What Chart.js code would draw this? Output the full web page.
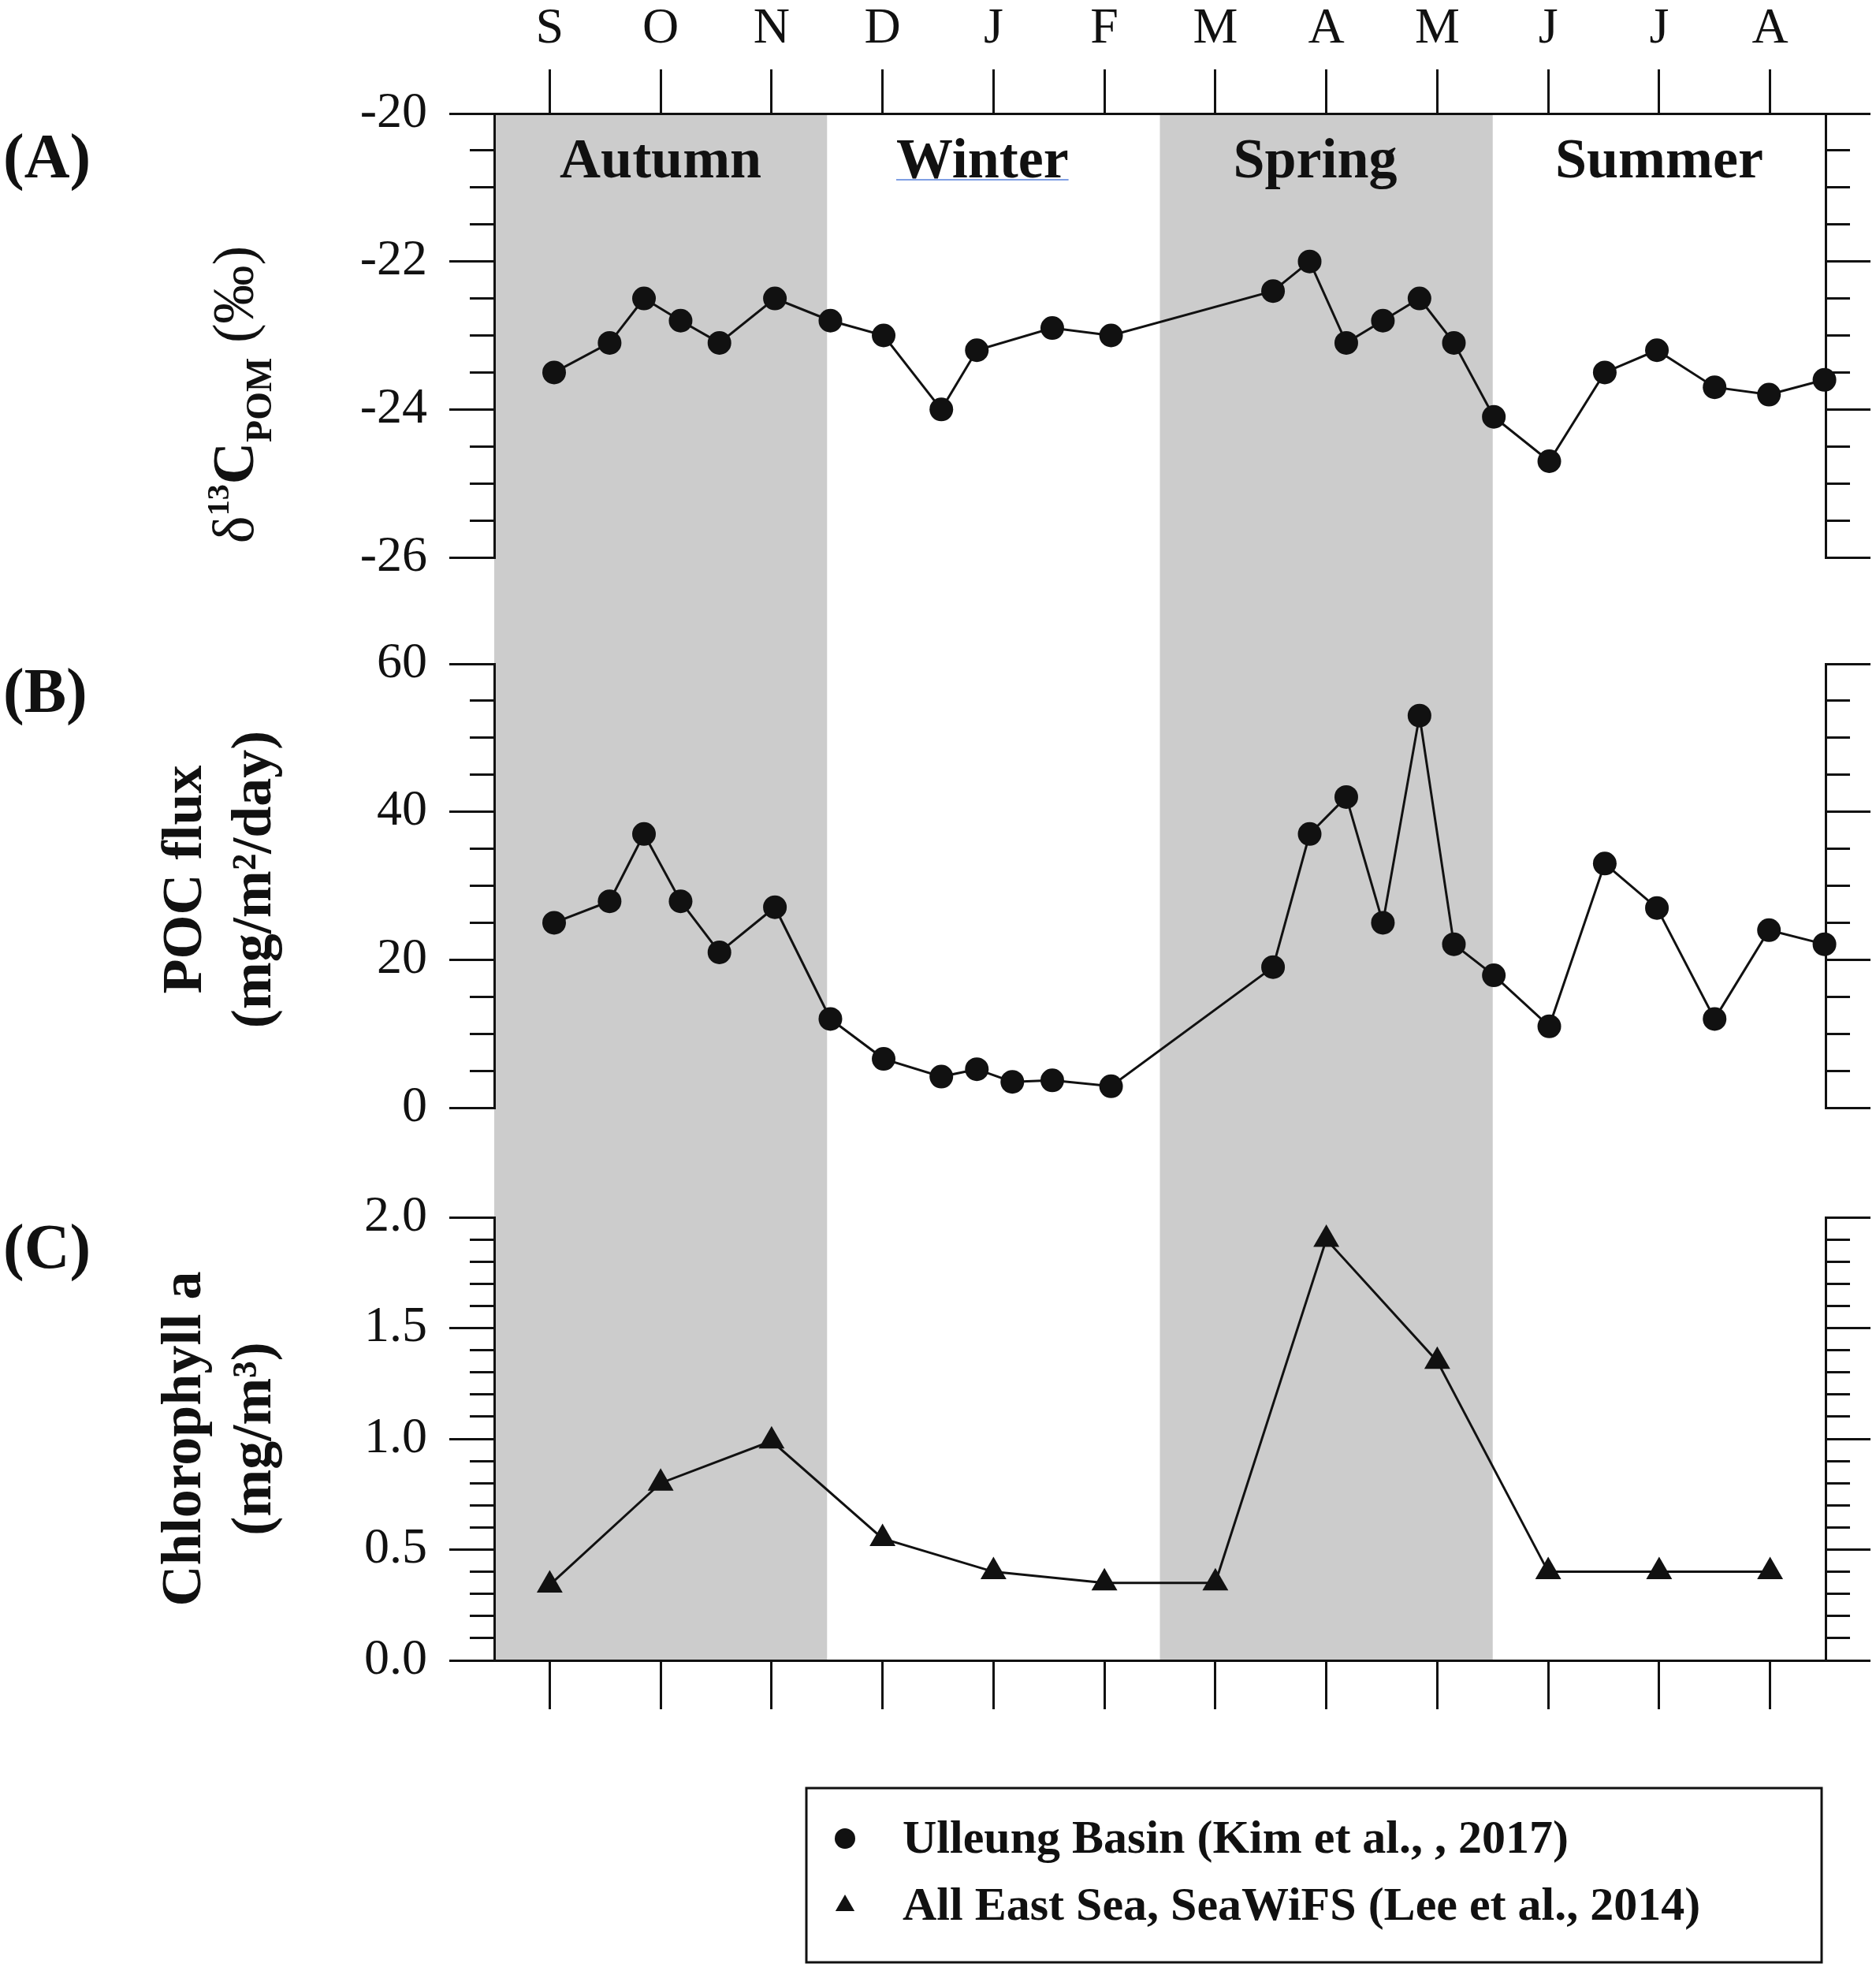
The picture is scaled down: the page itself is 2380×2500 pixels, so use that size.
<!DOCTYPE html>
<html>
<head>
<meta charset="utf-8">
<script src="https://cdn.jsdelivr.net/npm/chart.js@4.4.1/dist/chart.umd.min.js"></script>
<style>
  html, body { margin: 0; padding: 0; background: #fff; }
  canvas { display: block; }
</style>
</head>
<body>
<canvas id="chart" width="2380" height="2500"></canvas>
<script>
// month ticks along the shared x axis (0 = September ... 11 = August)
const months = ['S', 'O', 'N', 'D', 'J', 'F', 'M', 'A', 'M', 'J', 'J', 'A'];
const monthIdx = [0, 1, 2, 3, 4, 5, 6, 7, 8, 9, 10, 11];
const seasons = ['Autumn', 'Winter', 'Spring', 'Summer'];
const seasonCentres = [1, 3.9, 6.9, 10];
const shadedSpans = [[-0.5, 2.5], [5.5, 8.5]];

// (A) d13C of POM
const d13cMonths = [0.04, 0.54, 0.85, 1.18, 1.53, 2.03, 2.53, 3.01, 3.53, 3.85, 4.53, 5.06,
  6.52, 6.85, 7.18, 7.51, 7.84, 8.15, 8.51, 9.01, 9.51, 9.98, 10.50, 10.99, 11.49];
const d13cValues = [-23.5, -23.1, -22.5, -22.8, -23.1, -22.5, -22.8, -23.0, -24.0, -23.2, -22.9, -23.0,
  -22.4, -22.0, -23.1, -22.8, -22.5, -23.1, -24.1, -24.7, -23.5, -23.2, -23.7, -23.8, -23.6];

// (B) POC flux
const pocMonths = [0.04, 0.54, 0.85, 1.18, 1.53, 2.03, 2.53, 3.01, 3.53, 3.85, 4.17, 4.53, 5.06,
  6.52, 6.85, 7.18, 7.51, 7.84, 8.15, 8.51, 9.01, 9.51, 9.98, 10.50, 10.99, 11.49];
const pocValues = [25.0, 27.9, 37.0, 27.9, 21.0, 27.1, 12.0, 6.6, 4.2, 5.2, 3.5, 3.7, 2.9,
  19.0, 37.0, 42.0, 25.0, 53.0, 22.1, 17.9, 11.0, 33.0, 27.0, 12.0, 24.0, 22.1];

// (C) chlorophyll a
const chlMonths = [0, 1, 2, 3, 4, 5, 6, 7, 8, 9, 10, 11];
const chlValues = [0.34, 0.80, 0.99, 0.55, 0.40, 0.35, 0.35, 1.90, 1.35, 0.40, 0.40, 0.40];

const seriesLabels = ['Ulleung Basin (Kim et al., , 2017)', 'All East Sea, SeaWiFS (Lee et al., 2014)'];

const FONT = "'Liberation Serif', 'Times New Roman', serif";
const INK = '#111111';
const SHADE = '#cccccc';

function isMultiple(v, m) {
  const r = v / m;
  return Math.abs(r - Math.round(r)) < 1e-6;
}

function pts(xs, ys) {
  return xs.map((x, i) => ({ x: x, y: ys[i] }));
}

// value axis: long ticks on labelled values, short ones (dash trick) in between
function valueAxis(side, o) {
  const left = side === 'left';
  return {
    type: 'linear', position: side, stack: side, stackWeight: o.stackWeight, weight: o.weight,
    min: o.min, max: o.max,
    afterFit: s => { s.width = left ? 170 : 64; },
    border: { color: INK, width: 3 },
    grid: {
      drawOnChartArea: false, tickLength: 57, lineWidth: 3, tickWidth: 3, color: INK, tickColor: INK,
      tickBorderDash: c => (c.tick && !isMultiple(c.tick.value, o.major)) ? (left ? [0, 26, 30, 200] : [29, 200]) : []
    },
    ticks: {
      display: left, stepSize: o.step, autoSkip: false, padding: 28, color: INK,
      font: { family: FONT, size: 64 },
      callback: v => isMultiple(v, o.major) ? o.fmt(v) : ''
    }
  };
}

function spacerAxis(side, stackWeight, weight) {
  return {
    type: 'linear', position: side, stack: side, stackWeight: stackWeight, weight: weight,
    grid: { display: false }, border: { display: false }, ticks: { display: false },
    afterFit: s => { s.width = 0; }
  };
}

function monthAxis(pos) {
  const top = pos === 'top';
  return {
    type: 'linear', position: pos, min: -0.5, max: 11.5,
    afterBuildTicks: s => { s.ticks = monthIdx.map(v => ({ value: v })); },
    afterFit: s => { s.height = top ? 144 : 80; },
    border: { color: INK, width: 3 },
    grid: { drawOnChartArea: false, tickLength: top ? 56 : 62, lineWidth: 3, tickWidth: 3, color: INK, tickColor: INK },
    ticks: {
      display: top, autoSkip: false, maxRotation: 0, padding: 12, color: INK,
      font: { family: FONT, size: 64 },
      callback: v => months[v]
    }
  };
}

const fmtInt = v => String(v);
const fmtOne = v => v.toFixed(1);

// draws a run of text pieces rotated 90deg, centred on (x, y); x is the baseline
function vtext(ctx, x, y, parts) {
  ctx.save();
  ctx.translate(x, y);
  ctx.rotate(-Math.PI / 2);
  ctx.textAlign = 'left';
  ctx.textBaseline = 'alphabetic';
  let total = 0;
  parts.forEach(p => { ctx.font = p[1]; total += ctx.measureText(p[0]).width; });
  let cx = -total / 2;
  parts.forEach(p => {
    ctx.font = p[1];
    ctx.fillText(p[0], cx, p[2]);
    cx += ctx.measureText(p[0]).width;
  });
  ctx.restore();
}

const decor = {
  id: 'decor',
  beforeDraw(chart) {
    const { ctx, chartArea: a, scales } = chart;
    ctx.save();
    ctx.fillStyle = '#ffffff';
    ctx.fillRect(0, 0, chart.width, chart.height);
    ctx.fillStyle = SHADE;
    shadedSpans.forEach(([s, e]) => {
      const x0 = scales.x.getPixelForValue(s);
      const x1 = scales.x.getPixelForValue(e);
      ctx.fillRect(x0, a.top, x1 - x0, a.bottom - a.top);
    });
    ctx.restore();
  },
  afterDraw(chart) {
    const { ctx, scales } = chart;
    const yA = scales.yA, yB = scales.yB, yC = scales.yC;
    ctx.save();
    ctx.fillStyle = INK;

    // panel letters
    ctx.font = 'bold 80px ' + FONT;
    ctx.textAlign = 'left';
    ctx.textBaseline = 'middle';
    ctx.fillText('(A)', 4, yA.top + 60);
    ctx.fillText('(B)', 4, yB.top + 40);
    ctx.fillText('(C)', 4, yC.top + 43);

    // seasons
    ctx.font = 'bold 72px ' + FONT;
    ctx.textAlign = 'center';
    seasons.forEach((s, i) => {
      ctx.fillText(s, scales.x.getPixelForValue(seasonCentres[i]), yA.top + 62);
    });
    // the blue underline under "Winter"
    const wx = scales.x.getPixelForValue(seasonCentres[1]);
    const ww = ctx.measureText(seasons[1]).width;
    ctx.strokeStyle = '#7f9fe3';
    ctx.lineWidth = 2;
    ctx.beginPath();
    ctx.moveTo(wx - ww / 2, yA.top + 84);
    ctx.lineTo(wx + ww / 2, yA.top + 84);
    ctx.stroke();

    // axis titles
    const big = 'bold 72px ' + FONT;
    vtext(ctx, 321, (yA.top + yA.bottom) / 2 + 75, [
      ['\u03B4', '74px ' + FONT, 0],
      ['13', 'bold 40px ' + FONT, -31],
      ['C', 'bold 74px ' + FONT, 0],
      ['POM', 'bold 46px ' + FONT, 23],
      [' (\u2030)', '74px ' + FONT, 0]
    ]);
    const midB = (yB.top + yB.bottom) / 2 - 8;
    vtext(ctx, 255, midB, [['POC flux', big, 0]]);
    vtext(ctx, 343, midB, [['(mg/m\u00B2/day)', big, 0]]);
    const midC = (yC.top + yC.bottom) / 2;
    vtext(ctx, 254, midC, [['Chlorophyll a', big, 0]]);
    vtext(ctx, 343, midC, [['(mg/m\u00B3)', big, 0]]);

    // legend box
    const lg = { left: 1023, top: 2268, right: 2311, bottom: 2489 };
    ctx.strokeStyle = INK;
    ctx.lineWidth = 3;
    ctx.strokeRect(lg.left, lg.top, lg.right - lg.left, lg.bottom - lg.top);
    const ds = chart.data.datasets;
    const rows = [
      { ds: ds[0], r: 13, y: 2332 },
      { ds: ds[2], r: 14, y: 2417 }
    ];
    ctx.font = 'bold 60px ' + FONT;
    ctx.textAlign = 'left';
    ctx.textBaseline = 'middle';
    rows.forEach(row => {
      ctx.fillStyle = INK;
      Chart.helpers.drawPoint(ctx, { pointStyle: row.ds.pointStyle, radius: row.r, rotation: 0, borderWidth: 0 }, lg.left + 49, row.y);
      ctx.fillText(row.ds.label, lg.left + 122, row.y + 2);
    });
    ctx.restore();
  }
};

const lineStyle = {
  borderColor: INK, backgroundColor: INK, borderWidth: 3, tension: 0, clip: false,
  pointBackgroundColor: INK, pointBorderColor: INK, pointBorderWidth: 0
};

new Chart(document.getElementById('chart'), {
  type: 'line',
  data: {
    datasets: [
      Object.assign({ label: seriesLabels[0], data: pts(d13cMonths, d13cValues), xAxisID: 'x', yAxisID: 'yA',
        pointStyle: 'circle', pointRadius: 15, pointHoverRadius: 15 }, lineStyle),
      Object.assign({ label: seriesLabels[0], data: pts(pocMonths, pocValues), xAxisID: 'x', yAxisID: 'yB',
        pointStyle: 'circle', pointRadius: 15, pointHoverRadius: 15 }, lineStyle),
      Object.assign({ label: seriesLabels[1], data: pts(chlMonths, chlValues), xAxisID: 'x', yAxisID: 'yC',
        pointStyle: 'triangle', pointRadius: 19, pointHoverRadius: 19 }, lineStyle)
    ]
  },
  options: {
    responsive: false,
    devicePixelRatio: 1,
    animation: false,
    events: [],
    layout: { padding: { left: 457, right: 0, top: 0, bottom: 314 } },
    plugins: { legend: { display: false }, tooltip: { enabled: false } },
    scales: {
      x: monthAxis('top'),
      x2: monthAxis('bottom'),
      yA: valueAxis('left', { min: -26, max: -20, step: 0.5, major: 2, fmt: fmtInt, stackWeight: 563, weight: 5 }),
      gL1: spacerAxis('left', 135, 4),
      yB: valueAxis('left', { min: 0, max: 60, step: 5, major: 20, fmt: fmtInt, stackWeight: 563, weight: 3 }),
      gL2: spacerAxis('left', 139, 2),
      yC: valueAxis('left', { min: 0, max: 2, step: 0.1, major: 0.5, fmt: fmtOne, stackWeight: 562, weight: 1 }),
      rA: valueAxis('right', { min: -26, max: -20, step: 0.5, major: 2, fmt: fmtInt, stackWeight: 563, weight: 1 }),
      gR1: spacerAxis('right', 135, 2),
      rB: valueAxis('right', { min: 0, max: 60, step: 5, major: 20, fmt: fmtInt, stackWeight: 563, weight: 3 }),
      gR2: spacerAxis('right', 139, 4),
      rC: valueAxis('right', { min: 0, max: 2, step: 0.1, major: 0.5, fmt: fmtOne, stackWeight: 562, weight: 5 })
    }
  },
  plugins: [decor]
});
</script>
</body>
</html>
